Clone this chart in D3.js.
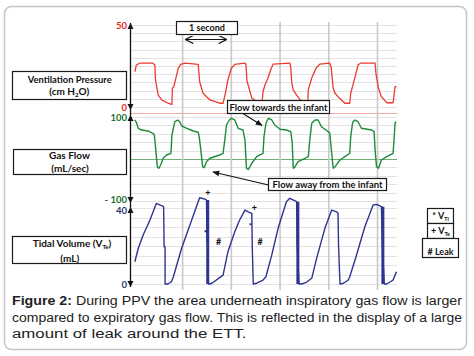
<!DOCTYPE html>
<html><head><meta charset="utf-8">
<script src="https://cdn.jsdelivr.net/npm/d3@7"></script>
<style>
body{margin:0;background:#fff;}
svg{display:block;}
.lbl{font-family:Lato,"Open Sans",sans-serif;font-weight:700;fill:#111;}
.cap{font-family:"Liberation Sans",Arial,sans-serif;fill:#222;}
</style></head><body>
<svg id="chart" width="474" height="356"></svg>
<script>
// ---------------- DATA ----------------
const timeTicks = [1, 2, 3, 4, 5];                 // seconds (vertical grid)
const pressureTicks = [0, 50];
const flowTicks = [-100, 100];
const volumeTicks = [0, 40];
const pressureGrid = [0, 5, 10, 15, 20, 25, 30, 35, 40, 45, 50];
const flowGrid = [-100, -80, -60, -40, -20, 20, 40, 60, 80, 100];
const flowZero = [0];
const volumeGrid = [0, 5, 10, 15, 20, 25, 30, 35, 40];
const pressureRef = [-3.7];

// [time (s), pressure (cm H2O)]
const pressureData = [
 [0.03,21.5],[0.06,25.6],[0.13,26.7],[0.40,26.7],[0.44,25.6],[0.45,18],[0.46,15.4],[0.51,7.3],[0.58,4.3],
 [0.71,2.3],[0.78,1.6],[0.79,1.6],[0.80,11.4],[0.83,12.4],[0.87,17.5],[0.92,23.6],[0.97,26.0],[1.06,26.7],
 [1.33,26.0],[1.36,15.4],[1.43,8.4],[1.57,4.3],[1.77,2.3],[1.84,2.3],[1.88,7.3],[1.94,16.5],[2.01,23.6],
 [2.08,26.0],[2.29,26.7],[2.31,26.0],[2.33,16],[2.43,5.5],[2.55,3.0],[2.64,2.3],[2.66,9.3],[2.70,13.4],
 [2.76,17.5],[2.83,23.6],[2.87,26.2],[3.21,26.7],[3.23,24],[3.25,15],[3.28,10.4],[3.35,7.3],[3.42,4.3],
 [3.52,3.2],[3.58,3.0],[3.59,10.4],[3.66,17.7],[3.75,23.8],[3.83,26.2],[4.03,26.7],[4.06,24],[4.10,11.4],
 [4.14,8.4],[4.20,6.3],[4.34,2.3],[4.44,2.3],[4.46,8.4],[4.52,15],[4.58,22],[4.61,25.6],[4.66,26.7],
 [4.96,26.7],[4.98,20],[5.03,11.4],[5.09,6.3],[5.20,2.6],[5.33,2.6],[5.37,12.4],[5.40,12.4]
];

// [time (s), gas flow (mL/sec)]
const flowData = [
 [0.03,92.9],[0.06,87.4],[0.10,73.1],[0.17,69.0],[0.30,66.7],[0.40,61.2],[0.43,57.1],[0.45,33.3],[0.49,-18.3],
 [0.52,-22.1],[0.56,-14.3],[0.61,1.7],[0.68,9.5],[0.77,13.6],[0.79,57.1],[0.82,73.1],[0.85,88.8],[0.91,92.9],
 [0.95,88.8],[0.99,79.3],[1.06,74.5],[1.23,66.7],[1.33,63.6],[1.35,53.1],[1.38,25.5],[1.42,-18.3],[1.45,-20.7],
 [1.50,-6.4],[1.57,1.7],[1.77,9.5],[1.84,13.6],[1.88,49.3],[1.91,81.0],[1.97,92.9],[2.01,96.9],[2.08,92.9],
 [2.15,73.1],[2.25,69.0],[2.29,45.2],[2.32,-22.1],[2.36,-24.5],[2.43,-10.2],[2.53,5.5],[2.66,13.6],[2.68,53.1],
 [2.72,85.0],[2.77,96.9],[2.84,92.9],[2.90,81.0],[3.01,70.7],[3.14,69.0],[3.23,65.0],[3.26,37.4],[3.28,-22.1],
 [3.31,-19.8],[3.38,-6.4],[3.52,1.7],[3.59,5.5],[3.62,45.2],[3.66,85.0],[3.73,92.9],[3.79,92.9],[3.86,76.9],
 [4.00,65.0],[4.03,61.2],[4.07,13.6],[4.10,-22.1],[4.14,-18.3],[4.24,-2.4],[4.34,5.5],[4.44,13.6],[4.46,53.1],
 [4.50,87.4],[4.55,92.9],[4.61,88.8],[4.68,73.1],[4.89,69.0],[4.94,65.0],[4.96,21.4],[4.99,-18.3],[5.03,-22.1],
 [5.09,-2.4],[5.20,5.5],[5.33,13.6],[5.37,85.0],[5.39,88.8]
];

// [time (s), tidal volume (mL)]
const volumeData = [
 [0.03,11.7],[0.10,18.8],[0.20,25.8],[0.34,33.7],[0.47,42.4],[0.54,41.6],[0.62,40.7],[0.63,19.6],[0.65,19.6],
 [0.65,0],[0.71,0],[0.78,1.2],[0.82,3.8],[0.89,10.0],[0.99,18.8],[1.16,31.0],[1.33,43.3],[1.36,45.4],
 [1.47,44.7],[1.50,44.2],[1.51,22.3],[1.53,22.3],[1.54,0],[1.57,0],[1.64,0.9],[1.84,4.7],[1.94,17.0],
 [2.08,27.5],[2.18,33.7],[2.29,38.9],[2.36,38.0],[2.43,37.2],[2.44,18.8],[2.46,0],[2.53,0.4],[2.66,2.1],
 [2.72,3.8],[2.84,15.3],[2.97,29.3],[3.14,43.3],[3.21,45.1],[3.35,43.3],[3.36,21.4],[3.40,0],[3.45,0],
 [3.55,0.9],[3.66,3.0],[3.76,13.5],[3.93,29.3],[4.07,38.9],[4.17,38.0],[4.20,37.2],[4.21,20.5],[4.24,0],
 [4.31,0.4],[4.41,2.1],[4.44,3.8],[4.58,15.3],[4.75,30.1],[4.92,41.6],[4.99,41.9],[5.09,40.7],[5.11,19.6],
 [5.15,0],[5.20,0],[5.33,2.1],[5.40,6.5]
];
// heavy expiratory drops: [time, top volume]
const volumeDrops = [[1.525, 44.2], [3.375, 43.3], [5.12, 40.7]];

// volume annotations: [symbol, time, volume]
const volumeMarks = [["+",1.53,47.7],["*",1.48,27],["#",1.75,22.3],["+",2.48,39.8],["*",2.40,30.5],["#",2.60,22.3]];

const captionLines = [
 ["Figure 2:", " During PPV the area underneath inspiratory gas flow is larger"],
 ["", "compared to expiratory gas flow. This is reflected in the display of a large"],
 ["", "amount of leak around the ETT."]
];

// ---------------- DRAW ----------------
const svg = d3.select("#chart");
const x = d3.scaleLinear().domain([-0.07, 5.41]).range([130, 397]);
const yP = d3.scaleLinear().domain([0, 50]).range([107, 25]);
const yF = d3.scaleLinear().domain([-100, 100]).range([201, 117]);
const yV = d3.scaleLinear().domain([0, 40]).range([284, 208]);

const defs = svg.append("defs");
defs.append("marker").attr("id","ah").attr("viewBox","0 0 10 10").attr("refX",9).attr("refY",5)
  .attr("markerWidth",7).attr("markerHeight",7).attr("markerUnits","userSpaceOnUse").attr("orient","auto-start-reverse")
  .append("path").attr("d","M0,1L10,5L0,9Z").attr("fill","#111");
defs.append("marker").attr("id","ah2").attr("viewBox","0 0 10 10").attr("refX",9).attr("refY",5)
  .attr("markerWidth",9).attr("markerHeight",8).attr("markerUnits","userSpaceOnUse").attr("orient","auto-start-reverse")
  .append("path").attr("d","M0,0L10,5L0,10").attr("fill","none").attr("stroke","#111").attr("stroke-width",1.6);

// frame
svg.append("rect").attr("x",4.5).attr("y",6.5).attr("width",462).attr("height",343).attr("rx",7)
  .attr("fill","#fff").attr("stroke","#c4c4c4").attr("stroke-width",1.5);

// horizontal grids
function hgrid(scale, vals, color, w) {
  svg.append("g").selectAll("line").data(vals).join("line")
    .attr("x1",130).attr("x2",397)
    .attr("y1",d=>Math.round(scale(d))+0.5).attr("y2",d=>Math.round(scale(d))+0.5)
    .attr("stroke",color).attr("stroke-width",w);
}
hgrid(yP, pressureGrid, "#e2e2e2", 1);
hgrid(yF, flowGrid, "#e2e2e2", 1);
hgrid(yV, volumeGrid, "#e2e2e2", 1);
hgrid(yF, flowZero, "#6fae6f", 1);
hgrid(yP, pressureRef, "#f3a99e", 1.2);

// vertical grid via axis
const xg = svg.append("g").attr("transform","translate(0,290)")
  .call(d3.axisBottom(x).tickValues(timeTicks).tickSize(-268).tickFormat(""));
xg.select(".domain").remove();
xg.selectAll(".tick line").attr("stroke","#c8c8c8").attr("stroke-width",1.6);

// traces
const lineGen = s => d3.line().x(d=>x(d[0])).y(d=>s(d[1]));
svg.append("path").datum(pressureData).attr("d",lineGen(yP)).attr("fill","none")
  .attr("stroke","#ee3b30").attr("stroke-width",1.3).attr("stroke-linejoin","round");
svg.append("path").datum(flowData).attr("d",lineGen(yF)).attr("fill","none")
  .attr("stroke","#1d8a3c").attr("stroke-width",1.4).attr("stroke-linejoin","round");
svg.append("path").datum(volumeData).attr("d",lineGen(yV)).attr("fill","none")
  .attr("stroke","#2e3590").attr("stroke-width",1.4).attr("stroke-linejoin","round");
svg.append("g").selectAll("line").data(volumeDrops).join("line")
  .attr("x1",d=>x(d[0])).attr("x2",d=>x(d[0])).attr("y1",d=>yV(d[1])).attr("y2",yV(0))
  .attr("stroke","#2e3590").attr("stroke-width",3);

// left axis line + arrowheads
svg.append("line").attr("x1",130.5).attr("x2",130.5).attr("y1",23).attr("y2",287)
  .attr("stroke","#111").attr("stroke-width",1.3);
const arrowTips = [[yP(50)-2,-1],[yP(0)+3,1],[yF(100)-2,-1],[yF(-100)+2,1],[yV(40)-1,-1],[yV(0)+3,1]];
svg.append("g").selectAll("path").data(arrowTips).join("path")
  .attr("d",d=>`M130.5,${d[0]}L127.5,${d[0]-6*d[1]}L133.5,${d[0]-6*d[1]}Z`).attr("fill","#111");

// tick labels through axes
function leftAxis(scale, vals, color, fmt, shift) {
  const g = svg.append("g").attr("transform","translate(130,0)")
    .call(d3.axisLeft(scale).tickValues(vals).tickSize(0).tickPadding(3).tickFormat(fmt));
  g.select(".domain").remove();
  g.selectAll("text").attr("fill",color).attr("font-family","Lato,'Open Sans',sans-serif")
    .attr("font-weight",700).attr("font-size",9.5)
    .attr("transform",d=>`translate(0,${shift ? shift(d) : 0})`);
}
leftAxis(yP, pressureTicks, "#e8261e", d=>d);
leftAxis(yF, flowTicks, "#1f6e2e", d=>d<0 ? "- " + Math.abs(d) : d, d=>d<0 ? -2 : 0);
leftAxis(yV, volumeTicks, "#2b3470", d=>d, d=>d>0 ? 2.5 : 0);

// boxes
function box(x0,y0,w,h){ svg.append("rect").attr("x",x0).attr("y",y0).attr("width",w).attr("height",h)
  .attr("fill","#fff").attr("stroke","#1a1a1a").attr("stroke-width",1.2); }
function txt(cx,y,s,size,len){ const t=svg.append("text").attr("class","lbl").attr("x",cx).attr("y",y)
  .attr("text-anchor","middle").attr("font-size",size).text(s);
  if(len){ t.attr("textLength",len).attr("lengthAdjust","spacingAndGlyphs"); } return t; }
function subTxt(cx,y,size,parts){ const t=svg.append("text").attr("class","lbl").attr("x",cx).attr("y",y)
  .attr("text-anchor","middle").attr("font-size",size);
  parts.forEach(p=>{ const s=t.append("tspan").text(p[0]); if(p[1]) s.attr("font-size",size*0.6).attr("dy",2.5); if(p[2]) s.attr("dy",-2.5); });
  return t; }

box(12.5,71.5,114,28);
txt(69.7,82.8,"Ventilation Pressure",10,84);
subTxt(69.2,94.5,10,[["(cm H"],["2",true],["O)",false,true]]);
box(13.5,149.5,113,25);
txt(69.5,159.4,"Gas Flow",10);
txt(70,171.8,"(mL/sec)",10);
box(12.5,236.5,114,27);
subTxt(72,246.8,10,[["Tidal Volume (V"],["Te",true],[")",false,true]]);
txt(69.7,261.8,"(mL)",10);

// 1 second
box(176.5,21.5,61,13);
txt(207,31.2,"1 second",10,36);
svg.append("line").attr("x1",x(1)+4).attr("x2",x(2)-5).attr("y1",39.5).attr("y2",39.5)
  .attr("stroke","#111").attr("stroke-width",1.2)
  .attr("marker-start","url(#ah2)").attr("marker-end","url(#ah2)");

// annotations
box(227.5,100.5,102,13);
txt(278.5,110.6,"Flow towards the infant",9.5,98);
svg.append("line").attr("x1",243).attr("y1",113.5).attr("x2",262).attr("y2",125.5)
  .attr("stroke","#111").attr("stroke-width",1.1).attr("marker-end","url(#ah)");
box(268.5,178.5,118,12);
txt(327.5,187.8,"Flow away from the infant",9.5,110);
svg.append("line").attr("x1",268.5).attr("y1",185).attr("x2",213).attr("y2",172)
  .attr("stroke","#111").attr("stroke-width",1.1).attr("marker-end","url(#ah)");

// volume symbols
svg.append("g").selectAll("text").data(volumeMarks).join("text")
  .attr("class","lbl").attr("x",d=>x(d[1])).attr("y",d=>yV(d[2])+3).attr("text-anchor","middle")
  .attr("font-size",d=>d[0]==="*"?8:9).text(d=>d[0]);

// legend boxes
box(427.5,208.5,26,15);
subTxt(440.5,218.5,9,[["* V"],["Ti",true]]);
box(427.5,223.5,26,15);
subTxt(440.5,233.5,9,[["+ V"],["Te",true]]);
box(422.5,238.5,36,19);
txt(440.5,254.5,"# Leak",9.5,26);

// caption
const capY = [305, 321.5, 338];
const capLen = [450, 450, 234.5];
captionLines.forEach((ln,i)=>{
  const t = svg.append("text").attr("class","cap").attr("x",12).attr("y",capY[i]).attr("font-size",12)
    .attr("textLength",capLen[i]).attr("lengthAdjust","spacingAndGlyphs");
  if(ln[0]) t.append("tspan").attr("font-weight",700).text(ln[0]);
  t.append("tspan").text(ln[1]);
});
</script>
</body></html>
